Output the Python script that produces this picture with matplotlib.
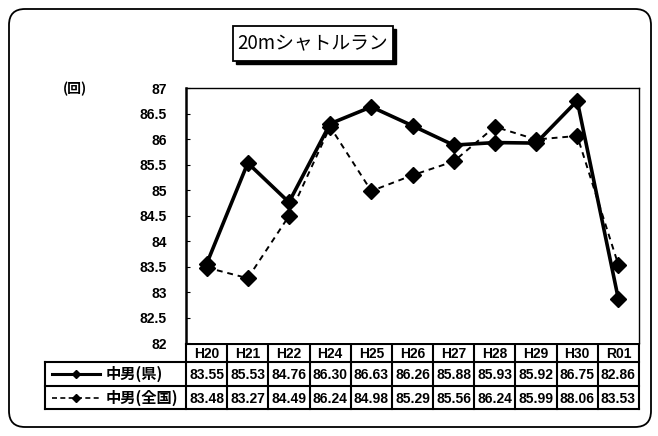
import numpy as np
import matplotlib.pyplot as plt
from matplotlib.patches import FancyBboxPatch, Rectangle
from matplotlib.lines import Line2D

plt.rcParams['font.family'] = ['Liberation Sans', 'Noto Sans CJK JP', 'DejaVu Sans']

# datos
categorias = ['H20', 'H21', 'H22', 'H24', 'H25', 'H26', 'H27', 'H28', 'H29', 'H30', 'R01']
ken = [83.55, 85.53, 84.76, 86.30, 86.63, 86.26, 85.88, 85.93, 85.92, 86.75, 82.86]
zenkoku = [83.48, 83.27, 84.49, 86.24, 84.98, 85.29, 85.56, 86.24, 85.99, 86.06, 83.53]
ken_txt = ['83.55', '85.53', '84.76', '86.30', '86.63', '86.26', '85.88', '85.93', '85.92', '86.75', '82.86']
zen_txt = ['83.48', '83.27', '84.49', '86.24', '84.98', '85.29', '85.56', '86.24', '85.99', '88.06', '83.53']
series_names = ['中男(県)', '中男(全国)']
yticks = [82, 82.5, 83, 83.5, 84, 84.5, 85, 85.5, 86, 86.5, 87]
titulo = '20mシャトルラン'

W, H = 658, 436
fig = plt.figure(figsize=(W / 100, H / 100), dpi=100)

# capa de fondo en pixeles
bg = fig.add_axes([0, 0, 1, 1])
bg.set_xlim(0, W)
bg.set_ylim(H, 0)
bg.axis('off')

# marco redondeado
bg.add_patch(FancyBboxPatch((9, 9), 642, 418, boxstyle='round,pad=0,rounding_size=16',
                            fill=False, ec='black', lw=1.3))

# caja del titulo con sombra
bg.add_patch(Rectangle((236, 29), 160, 35, fc='black', ec='black'))
bg.add_patch(Rectangle((233, 26), 160, 35, fc='white', ec='black', lw=1.3))
bg.text(313, 44, titulo, ha='center', va='center', fontsize=13.5,
        family=['Noto Sans CJK JP', 'DejaVu Sans'])

bg.text(75, 89, '(回)', ha='center', va='center', fontsize=10, fontweight='bold',
        family=['Noto Sans CJK JP', 'DejaVu Sans'])

# grafico
x0, x1, ytop, ybot = 186, 639, 88, 343
ax = fig.add_axes([x0 / W, (H - ybot) / H, (x1 - x0) / W, (ybot - ytop) / H])
x = np.arange(len(categorias))
ax.plot(x, zenkoku, color='black', lw=1.4, ls=(0, (3, 2.5)), marker='D', ms=8, zorder=2)
ax.plot(x, ken, color='black', lw=2.6, marker='D', ms=8, zorder=3)
ax.set_xlim(-0.5, len(categorias) - 0.5)
ax.set_ylim(82, 87)
ax.set_yticks(yticks)
ax.set_yticklabels([f'{v:g}' for v in yticks], fontsize=10, fontweight='bold')
ax.tick_params(axis='y', direction='in', length=3, pad=14)
ax.set_xticks([])
for s in ax.spines.values():
    s.set_linewidth(1.0)
ax.spines['left'].set_linewidth(1.8)
ax.spines['bottom'].set_visible(False)

# tabla de datos
colw = (x1 - x0) / len(categorias)
rows = [344, 362, 386, 409]
lbl_x = 45
lw = 1.5
bg.plot([x0, x1], [rows[0], rows[0]], color='black', lw=lw)
bg.plot([lbl_x, x1], [rows[1], rows[1]], color='black', lw=lw)
bg.plot([lbl_x, x1], [rows[2], rows[2]], color='black', lw=lw)
bg.plot([lbl_x, x1], [rows[3], rows[3]], color='black', lw=lw)
bg.plot([lbl_x, lbl_x], [rows[1], rows[3]], color='black', lw=lw)
for i in range(len(categorias) + 1):
    xx = x0 + i * colw
    bg.plot([xx, xx], [rows[0], rows[3]], color='black', lw=lw)

for i, c in enumerate(categorias):
    cx = x0 + (i + 0.5) * colw
    bg.text(cx, (rows[0] + rows[1]) / 2 + 1, c, ha='center', va='center',
            fontsize=10, fontweight='bold')
    bg.text(cx, (rows[1] + rows[2]) / 2 + 1, ken_txt[i], ha='center', va='center',
            fontsize=10, fontweight='bold')
    bg.text(cx, (rows[2] + rows[3]) / 2 + 1, zen_txt[i], ha='center', va='center',
            fontsize=10, fontweight='bold')

# leyenda dentro de la tabla
estilos = [dict(lw=2.2, ls='-'), dict(lw=1.2, ls=(0, (3, 2)))]
for r, (name, st) in enumerate(zip(series_names, estilos)):
    yy = (rows[r + 1] + rows[r + 2]) / 2
    bg.add_line(Line2D([52, 100], [yy, yy], color='black', **st))
    bg.plot([76], [yy], marker='D', color='black', ms=4)
    bg.text(106, yy, name, ha='left', va='center', fontsize=11, fontweight='bold',
            family=['Noto Sans CJK JP', 'DejaVu Sans'])

fig.savefig('out.png', dpi=100)
